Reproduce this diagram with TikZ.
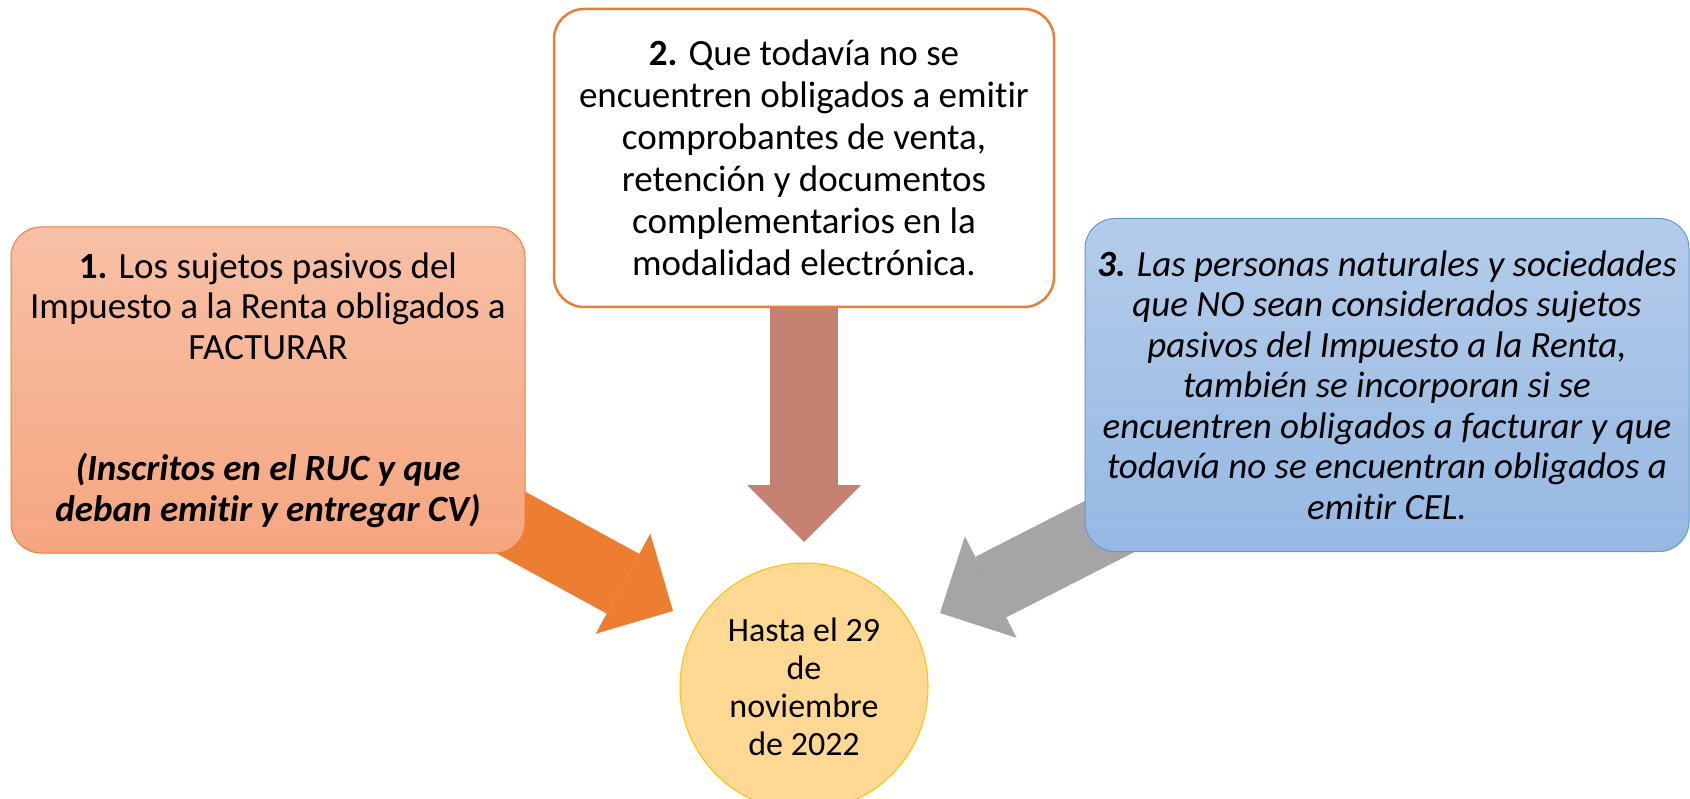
\documentclass[tikz,border=0pt]{standalone}
\usepackage{fontspec}
\setmainfont{Carlito}[Ligatures=NoCommon]
\usepackage{tikz}
\usetikzlibrary{arrows.meta, backgrounds}

\definecolor{boxorange}{HTML}{ED7D31}
\definecolor{salmontop}{HTML}{F8C0A6}
\definecolor{salmonbot}{HTML}{F5A680}
\definecolor{bluetop}{HTML}{B4CCEA}
\definecolor{bluebot}{HTML}{95B8E3}
\definecolor{blueline}{HTML}{5B9BD5}
\definecolor{brownarrow}{HTML}{C48070}
\definecolor{grayarrow}{HTML}{A5A5A5}
\definecolor{sunfill}{HTML}{FFD993}
\definecolor{sunline}{HTML}{FFC000}

\begin{document}
\begin{tikzpicture}[x=1pt, y=-1pt,
		box/.style={rounded corners=30pt, align=center, inner sep=0pt},
		bigtext/.style={font=\fontsize{37}{40.5}\selectfont},
		bigarrow/.style={line width=68pt, -{Triangle[length=57pt, width=114pt, line width=0pt]}}]
			\useasboundingbox (0,0) rectangle (1690,799);
			% Nodes
			\node[box, bigtext, draw=boxorange, line width=1pt, top color=salmontop, bottom color=salmonbot,
				minimum width=514pt, minimum height=326pt] (lbox) at (268,390) {\textbf{1.} Los sujetos pasivos del\\Impuesto a la Renta obligados a\\FACTURAR\\\mbox{}\\\mbox{}\\\textbf{\textit{(Inscritos en el RUC y que}}\\\textbf{\textit{deban emitir y entregar CV)}}};
			\node[box, draw=boxorange, line width=2.5pt, fill=white, font=\fontsize{37}{42}\selectfont,
				minimum width=500pt, minimum height=298pt] (tbox) at (804,158) {\textbf{2.} Que todavía no se\\encuentren obligados a emitir\\comprobantes de venta,\\retención y documentos\\complementarios en la\\modalidad electrónica.};
			\node[box, bigtext, draw=blueline, line width=1pt, top color=bluetop, bottom color=bluebot,
				minimum width=604pt, minimum height=333pt] (rbox) at (1387,385) {\itshape\textbf{3.} Las personas naturales y sociedades\\\itshape que NO sean considerados sujetos\\\itshape pasivos del Impuesto a la Renta,\\\itshape también se incorporan si se\\\itshape encuentren obligados a facturar y que\\\itshape todavía no se encuentran obligados a\\\itshape emitir CEL.};
			\node[circle, draw=sunline, line width=1pt, fill=sunfill, minimum size=248pt, inner sep=0pt, align=center,
				font=\fontsize{34}{38}\selectfont] (date) at (804,687) {Hasta el 29\\de\\noviembre\\de 2022};
			% Arrows
			\coordinate (ltip) at (673,611);
			\coordinate (mtip) at (804,542);
			\coordinate (rtip) at (940,613);
			\begin{scope}[on background layer]
				\draw[bigarrow, boxorange] (lbox.center) -- (ltip);
				\draw[bigarrow, brownarrow] (tbox.center) -- (mtip);
				\draw[bigarrow, grayarrow] (rbox.center) -- (rtip);
			\end{scope}
		\end{tikzpicture}
\end{document}
